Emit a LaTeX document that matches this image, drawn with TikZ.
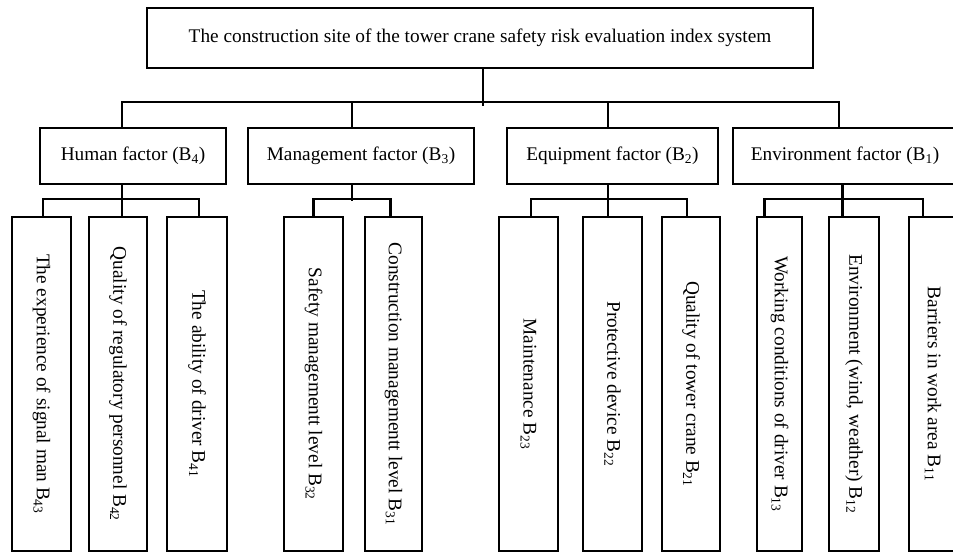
\documentclass[tikz,border=0pt]{standalone}
\usepackage{fontspec}
\setmainfont{Liberation Serif}
\usetikzlibrary{positioning}
\tikzset{rootbox/.style={draw,line width=2.2pt,minimum width=666pt,minimum height=60pt,inner sep=0pt},
	 factorbox/.style={draw,line width=2.2pt,minimum height=56pt,inner sep=0pt},
	 leafbox/.style={draw,line width=2.2pt,rotate=-90,minimum width=334pt,inner sep=0pt},
	 conn/.style={line width=2.2pt}
	 }

\begin{document}
\begin{tikzpicture}[x=1pt,y=-1pt,every node/.style={font=\fontsize{19.3}{22}\selectfont}]
      \useasboundingbox (0,0) rectangle (953,554);
      % root and factors
      \node[rootbox] (root) at (480,38) {The construction site of the tower crane safety risk evaluation index system};
      \node[factorbox,minimum width=186pt] (hf) at (133,156) {Human factor (B\textsubscript{4})};
      \node[factorbox,minimum width=226pt] (mf) at (361,156) {Management factor (B\textsubscript{3})};
      \node[factorbox,minimum width=211pt] (ef) at (612.5,156) {Equipment factor (B\textsubscript{2})};
      \node[factorbox,minimum width=224pt] (nf) at (845,156) {Environment factor (B\textsubscript{1})};
      % leaves
      \node[leafbox,minimum height=59pt] (h1) at (41.5,384) {The experience of signal man B\textsubscript{43}};
      \node[leafbox,minimum height=58pt] (h2) at (118,384) {Quality of regulatory personnel B\textsubscript{42}};
      \node[leafbox,minimum height=60pt] (h3) at (197,384) {The ability of driver B\textsubscript{41}};
      \node[leafbox,minimum height=59pt] (m1) at (313.5,384) {Safety managementt level B\textsubscript{32}};
      \node[leafbox,minimum height=57pt] (m2) at (393.5,384) {Construction managementt level B\textsubscript{31}};
      \node[leafbox,minimum height=59pt] (e1) at (528.5,384) {Maintenance B\textsubscript{23}};
      \node[leafbox,minimum height=59pt] (e2) at (612.5,384) {Protective device B\textsubscript{22}};
      \node[leafbox,minimum height=58pt] (e3) at (691,384) {Quality of tower crane B\textsubscript{21}};
      \node[leafbox,minimum height=45pt] (n1) at (779.5,384) {Working conditions of driver B\textsubscript{13}};
      \node[leafbox,minimum height=50pt] (n2) at (854,384) {Environment (wind, weather) B\textsubscript{12}};
      \node[leafbox,minimum height=48pt] (n3) at (933,384) {Barriers in work area B\textsubscript{11}};
      % top level connectors
      \draw[conn] ([xshift=3pt]root.south) -- ++(0,37);
      \draw[conn] ([xshift=-11pt]hf.north) -- ++(0,-25) -| ([xshift=-6pt]nf.north);
      \draw[conn] ([xshift=-9pt]mf.north) -- ++(0,-25);
      \draw[conn] ([xshift=-4.5pt]ef.north) -- ++(0,-25);
      % factor to leaf connectors
      \draw[conn] ([xshift=-11pt]hf.south) -- ++(0,33);
      \draw[conn] ([xshift=1.5pt]h1.west) -- ++(0,-17) -| ([xshift=2pt]h3.west);
      \draw[conn] ([xshift=-9pt]mf.south) -- ++(0,16);
      \draw[conn] (m1.west) -- ++(0,-17) -| ([xshift=-3pt]m2.west);
      \draw[conn] ([xshift=-4.5pt]ef.south) -- ++(0,33);
      \draw[conn] ([xshift=2.5pt]e1.west) -- ++(0,-17) -| ([xshift=-4pt]e3.west);
      \draw[conn] ([xshift=-2.5pt]nf.south) -- ++(0,33);
      \draw[conn] ([xshift=-15pt]n1.west) -- ++(0,-17) -| ([xshift=-10pt]n3.west);
\end{tikzpicture}
\end{document}
